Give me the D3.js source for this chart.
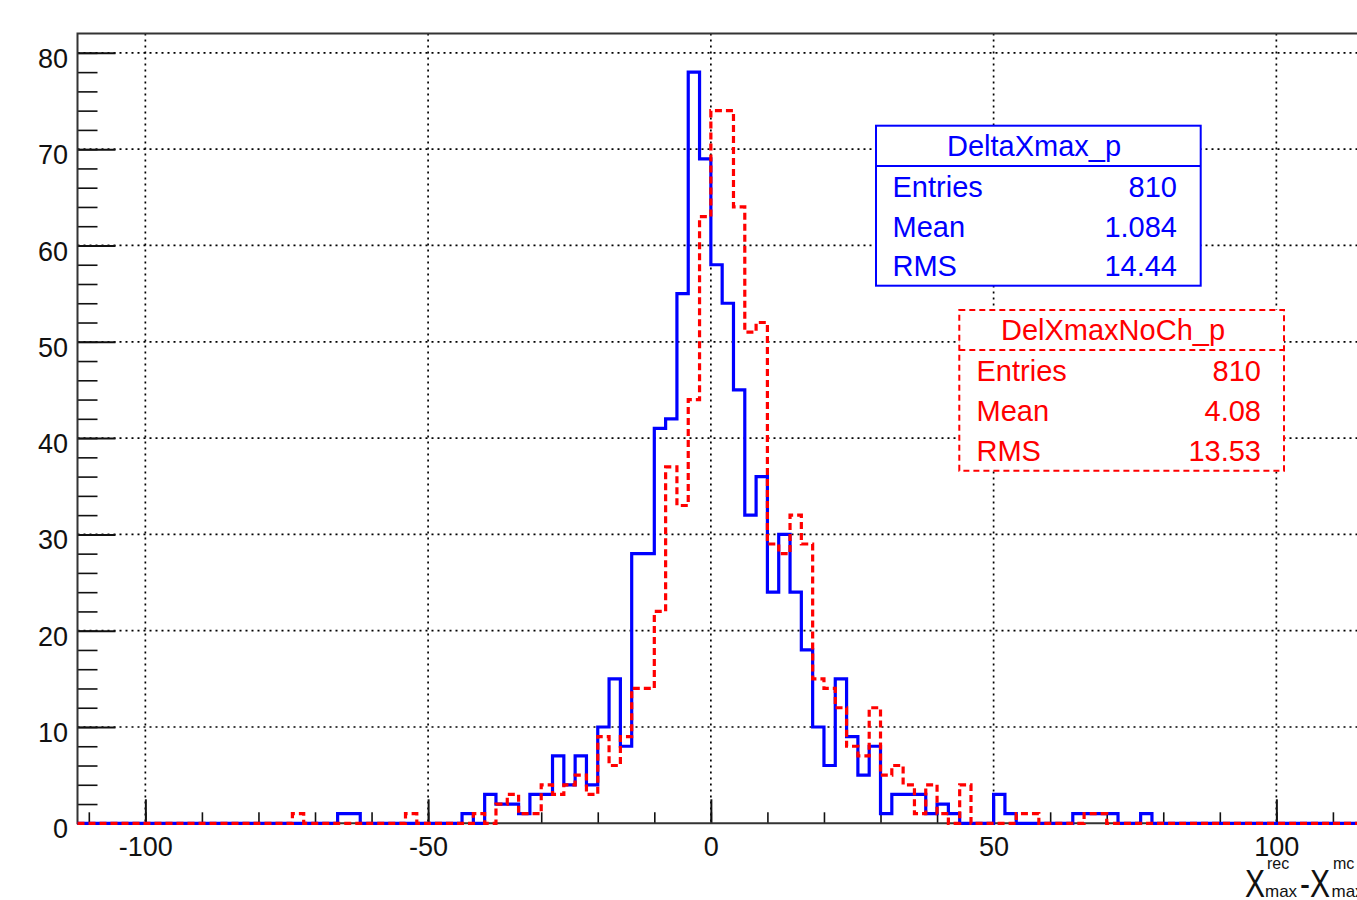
<!DOCTYPE html>
<html>
<head>
<meta charset="utf-8">
<script src="https://cdn.jsdelivr.net/npm/d3@7"></script>
<style>
  body { margin: 0; background: #ffffff; }
  svg { display: block; font-family: 'Liberation Sans', Arial, sans-serif; }
</style>
</head>
<body>
<script>
/**
Xmax resolution: two overlaid histograms with ROOT-style stat boxes.
*/

const width = 1357;
const height = 900;

// Binning of both histograms (2 units per bin)
const xMin = -112;
const xMax = 118;
const binWidth = 2;
const yMax = 82;

// DeltaXmax_p : low edge of every non-empty bin and its content
const blueEdges = [-66, -64, -44, -40, -38, -36, -34, -32, -30, -28, -26, -24, -22, -20, -18, -16, -14, -12, -10, -8, -6, -4, -2,
  0, 2, 4, 6, 8, 10, 12, 14, 16, 18, 20, 22, 24, 26, 28, 30, 32, 34, 36, 38, 40, 42, 50, 52, 64, 66, 68, 70, 76];
const blueCounts = [1, 1, 1, 3, 2, 2, 1, 3, 3, 7, 4, 7, 4, 10, 15, 8, 28, 28, 41, 42, 55, 78, 69,
  58, 54, 45, 32, 36, 24, 30, 24, 18, 10, 6, 15, 9, 5, 8, 1, 3, 3, 3, 1, 2, 1, 3, 1, 1, 1, 1, 1, 1];

// DelXmaxNoCh_p
const redEdges = [-74, -54, -42, -38, -36, -34, -32, -30, -28, -26, -24, -22, -20, -18, -16, -14, -12, -10, -8, -6, -4, -2,
  0, 2, 4, 6, 8, 10, 12, 14, 16, 18, 20, 22, 24, 26, 28, 30, 32, 34, 36, 38, 40, 44, 54, 56, 66, 68];
const redCounts = [1, 1, 1, 2, 3, 1, 1, 4, 3, 4, 5, 3, 9, 6, 9, 14, 14, 22, 37, 33, 44, 63,
  74, 74, 64, 51, 52, 29, 28, 32, 29, 15, 14, 12, 8, 7, 12, 5, 6, 4, 1, 4, 1, 4, 1, 1, 1, 1];

// Axis ticks
const xTicks = [-100, -50, 0, 50, 100];
const yTicks = [0, 10, 20, 30, 40, 50, 60, 70, 80];

// Stat boxes
const statLabels = ['Entries', 'Mean', 'RMS'];
const blueName = 'DeltaXmax_p';
const blueStats = ['810', '1.084', '14.44'];
const redName = 'DelXmaxNoCh_p';
const redStats = ['810', '4.08', '13.53'];

const blue = '#0000ff';
const red = '#ff0000';

// Plot frame
const plotLeft = 77.5;
const plotTop = 33.6;
const plotBottom = 823.3;
const pxPerUnit = 5.655;

var svg = d3.select('body')
  .append('svg')
  .attr('width', width)
  .attr('height', height)
  .style('background-color', '#ffffff');

const x = d3.scaleLinear()
  .domain([xMin, xMax])
  .range([plotLeft, plotLeft + (xMax - xMin) * pxPerUnit]);

const y = d3.scaleLinear()
  .domain([0, yMax])
  .range([plotBottom, plotTop]);

// Dotted grid at the major ticks
var grid = svg.append('g')
  .attr('stroke', '#000')
  .attr('stroke-width', 1.7)
  .attr('stroke-dasharray', '2,4');

grid.selectAll('.gx')
  .data(xTicks)
  .enter().append('line')
  .attr('x1', d => x(d)).attr('x2', d => x(d))
  .attr('y1', plotTop).attr('y2', plotBottom);

grid.selectAll('.gy')
  .data(yTicks.slice(1))
  .enter().append('line')
  .attr('x1', plotLeft).attr('x2', width)
  .attr('y1', d => y(d)).attr('y2', d => y(d));

// Minor and major ticks, pointing inside the frame
svg.append('g')
  .attr('transform', 'translate(' + plotLeft + ',0)')
  .call(d3.axisLeft(y).tickValues(d3.range(0, yMax, 2)).tickSize(-20).tickFormat(''))
  .call(g => g.select('.domain').remove())
  .call(g => g.selectAll('line').attr('stroke', '#111').attr('stroke-width', 1.6));

var yAxis = svg.append('g')
  .attr('transform', 'translate(' + plotLeft + ',0)')
  .call(d3.axisLeft(y).tickValues(yTicks).tickSize(-38).tickPadding(9.5).tickFormat(d => String(d)))
  .call(g => g.select('.domain').remove());
yAxis.selectAll('line').attr('stroke', '#111').attr('stroke-width', 2);
yAxis.selectAll('text')
  .attr('dy', '0.54em')
  .style('font-size', '27px')
  .style('font-family', "'Liberation Sans', Arial, sans-serif")
  .style('fill', '#111');

svg.append('g')
  .attr('transform', 'translate(0,' + plotBottom + ')')
  .call(d3.axisBottom(x).tickValues(d3.range(-110, 120, 10)).tickSize(-11).tickFormat(''))
  .call(g => g.select('.domain').remove())
  .call(g => g.selectAll('line').attr('stroke', '#111').attr('stroke-width', 1.6));

var xAxis = svg.append('g')
  .attr('transform', 'translate(0,' + plotBottom + ')')
  .call(d3.axisBottom(x).tickValues(xTicks).tickSize(-24).tickPadding(14).tickFormat(d => String(d)))
  .call(g => g.select('.domain').remove());
xAxis.selectAll('line').attr('stroke', '#111').attr('stroke-width', 2);
xAxis.selectAll('text')
  .style('font-size', '27px')
  .style('font-family', "'Liberation Sans', Arial, sans-serif")
  .style('fill', '#111');

// Frame (left and top) and x axis line
svg.append('path')
  .attr('d', 'M' + width + ',' + plotTop + 'H' + plotLeft + 'V' + plotBottom + 'H' + width)
  .attr('fill', 'none')
  .attr('stroke', '#333')
  .attr('stroke-width', 2);

/**
Expand the non-empty bins into the full bin list
return: array of step points
*/
function stepPoints(edges, counts) {
  var n = Math.round((xMax - xMin) / binWidth);
  var bins = d3.range(n).map(i => [xMin + i * binWidth, 0]);
  edges.forEach((e, i) => { bins[Math.round((e - xMin) / binWidth)][1] = counts[i]; });
  bins.push([xMax, bins[n - 1][1]]);
  return bins;
}

var step = d3.line()
  .x(d => x(d[0]))
  .y(d => y(d[1]))
  .curve(d3.curveStepAfter);

svg.append('path')
  .attr('d', step(stepPoints(blueEdges, blueCounts)))
  .attr('fill', 'none')
  .attr('stroke', blue)
  .attr('stroke-width', 3.2);

svg.append('path')
  .attr('d', step(stepPoints(redEdges, redCounts)))
  .attr('fill', 'none')
  .attr('stroke', red)
  .attr('stroke-width', 3.2)
  .attr('stroke-dasharray', '7,4');

/**
Draw one stat box
*/
function statBox(bx, by, bw, bh, sep, color, dash, name, values, titleX, rowY, labelX, valueX) {
  var g = svg.append('g');
  g.append('rect')
    .attr('x', bx).attr('y', by)
    .attr('width', bw).attr('height', bh)
    .attr('fill', '#fff')
    .attr('stroke', color)
    .attr('stroke-width', 2)
    .attr('stroke-dasharray', dash);
  g.append('line')
    .attr('x1', bx).attr('x2', bx + bw)
    .attr('y1', by + sep).attr('y2', by + sep)
    .attr('stroke', color)
    .attr('stroke-width', 2)
    .attr('stroke-dasharray', dash);
  g.append('text')
    .attr('x', titleX).attr('y', by + sep - 10)
    .style('text-anchor', 'middle')
    .style('font-size', '29px')
    .style('fill', color)
    .text(name);
  statLabels.forEach((lab, i) => {
    g.append('text')
      .attr('x', labelX).attr('y', rowY[i])
      .style('font-size', '29px')
      .style('fill', color)
      .text(lab);
    g.append('text')
      .attr('x', valueX).attr('y', rowY[i])
      .style('text-anchor', 'end')
      .style('font-size', '29px')
      .style('fill', color)
      .text(values[i]);
  });
}

statBox(876, 125.7, 324.7, 160, 40.3, blue, null, blueName, blueStats, 1034, [197, 236.5, 276], 892.5, 1177);
statBox(959.3, 310, 324.7, 160.7, 40, red, '6,4', redName, redStats, 1113, [381, 421, 460.5], 976.5, 1261);

// x axis title: X^rec_max - X^mc_max
var xt = svg.append('g').style('fill', '#111');
xt.append('text')
  .attr('transform', 'translate(1245,896.7) scale(1,1.3)')
  .style('font-size', '30px')
  .text('X');
xt.append('text').attr('x', 1267).attr('y', 869).style('font-size', '16px').text('rec');
xt.append('text').attr('x', 1265).attr('y', 897).style('font-size', '17px').text('max');
xt.append('text')
  .attr('transform', 'translate(1300,896.7) scale(1,1.3)')
  .style('font-size', '30px')
  .text('-X');
xt.append('text').attr('x', 1333).attr('y', 869).style('font-size', '16px').text('mc');
xt.append('text').attr('x', 1331.5).attr('y', 897).style('font-size', '17px').text('max');
</script>
</body>
</html>
